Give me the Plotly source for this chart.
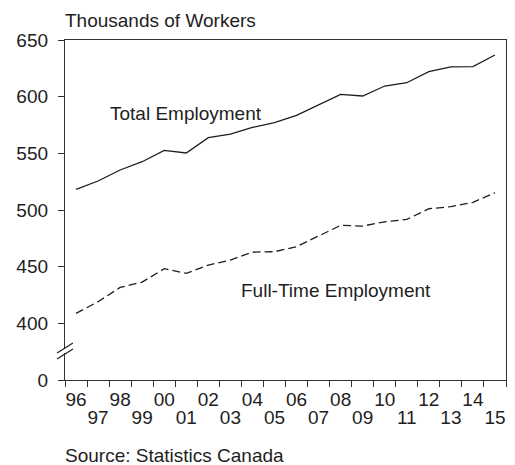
"""Employment chart: total vs full-time workers, 1996-2015."""

import plotly.graph_objects as go

years = list(range(1996, 2016))
total_employment = [518.2, 525.6, 535.3, 542.6, 552.6, 550.3, 563.8, 567.0, 572.9, 577.0,
                    583.5, 592.6, 602.1, 600.6, 609.4, 612.3, 622.0, 626.2, 626.5, 636.8]
full_time_employment = [408.8, 419.1, 431.7, 436.4, 448.2, 444.1, 451.4, 455.8, 462.9, 463.2,
                        467.6, 477.0, 486.5, 485.8, 489.6, 491.7, 501.1, 502.9, 506.8, 515.2]
year_labels = [f"{y % 100:02d}" for y in years]
y_ticks = [350, 400, 450, 500, 550, 600, 650]
y_tick_labels = ['0', '400', '450', '500', '550', '600', '650']

FONT = 'Liberation Sans, Arial, sans-serif'
INK = '#1e1e1e'

even = [i for i, y in enumerate(years) if y % 2 == 0]
odd = [i for i, y in enumerate(years) if y % 2 == 1]
boundaries = [y - 0.5 for y in years] + [years[-1] + 0.5]

fig = go.Figure()
fig.add_trace(go.Scatter(x=years, y=total_employment, mode='lines', name='Total Employment',
                         line=dict(color=INK, width=1.3)))
fig.add_trace(go.Scatter(x=years, y=full_time_employment, mode='lines', name='Full-Time Employment',
                         line=dict(color=INK, width=1.3, dash='8px,4px')))
# invisible trace so the second x axis (odd year labels) gets drawn
fig.add_trace(go.Scatter(x=[years[0]], y=[total_employment[0]], xaxis='x2', mode='markers',
                         marker=dict(opacity=0), hoverinfo='skip', showlegend=False))

xrange = [years[0] - 0.5, years[-1] + 0.5]
# page body adds an 8px margin, so the figure is 8px smaller and margins shifted
fig.update_layout(
    width=507, height=457,
    margin=dict(l=54, r=8, t=32, b=85),
    paper_bgcolor='white', plot_bgcolor='white',
    showlegend=False,
    font=dict(family=FONT, size=19, color=INK),
    xaxis=dict(range=xrange, showgrid=False, zeroline=False,
               showline=True, linecolor='#333333', linewidth=1.3, mirror=True,
               tickvals=[years[i] for i in even], ticktext=[year_labels[i] for i in even],
               ticks='', ticklabelstandoff=2,
               minor=dict(tickvals=boundaries, ticks='outside', ticklen=6,
                          tickcolor='#333333', tickwidth=1.3, showgrid=False)),
    xaxis2=dict(range=xrange, overlaying='x', anchor='y', side='bottom',
                showgrid=False, zeroline=False, showline=False,
                tickvals=[years[i] for i in odd], ticktext=[year_labels[i] for i in odd],
                ticks='', ticklabelstandoff=24),
    yaxis=dict(range=[350, 650], showgrid=False, zeroline=False,
               showline=True, linecolor='#333333', linewidth=1.3, mirror=True,
               tickvals=y_ticks, ticktext=y_tick_labels, ticklabelstandoff=6,
               ticks='outside', ticklen=6, tickcolor='#333333', tickwidth=1.3),
)

# axis break on the y axis
fig.add_shape(type='rect', xref='paper', yref='y', x0=-0.008, x1=0.008, y0=373.8, y1=377.4,
              fillcolor='white', line=dict(width=0), layer='above')
for yc in (378.2, 372.9):
    fig.add_shape(type='line', xref='paper', yref='y', x0=-0.018, x1=0.018,
                  y0=yc - 4.4, y1=yc + 4.4, line=dict(color=INK, width=1.2), layer='above')

fig.add_annotation(x=2001.0, y=585.2, text='Total Employment', showarrow=False,
                   xanchor='center', yanchor='middle')
fig.add_annotation(x=2007.8, y=429.0, text='Full-Time Employment', showarrow=False,
                   xanchor='center', yanchor='middle')
fig.add_annotation(x=-0.0045, y=1.057, xref='paper', yref='paper', text='Thousands of Workers',
                   showarrow=False, xanchor='left', yanchor='middle')
fig.add_annotation(x=-0.0045, y=-0.222, xref='paper', yref='paper', text='Source: Statistics Canada',
                   showarrow=False, xanchor='left', yanchor='middle')

fig.write_html("out.html")
